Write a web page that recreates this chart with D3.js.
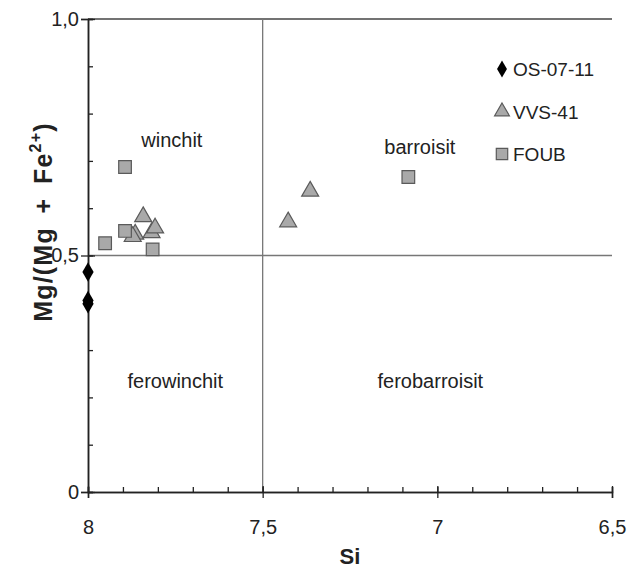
<!DOCTYPE html>
<html>
<head>
<meta charset="utf-8">
<script src="https://cdn.jsdelivr.net/npm/d3@7"></script>
<style>
  body { margin: 0; background: #fff; }
  svg { font-family: "Liberation Sans", Arial, sans-serif; }
</style>
</head>
<body>
<div id="okvir"></div>
<script>
// podatci ocitani sa slike
const osSi = [8.0, 8.0, 8.0];
const osMg = [0.465, 0.405, 0.398];

const vvsSi = [7.842, 7.865, 7.872, 7.818, 7.808, 7.427, 7.364];
const vvsMg = [0.582, 0.545, 0.540, 0.548, 0.558, 0.571, 0.636];

const foubSi = [7.894, 7.951, 7.894, 7.815, 7.083];
const foubMg = [0.687, 0.526, 0.552, 0.513, 0.666];

const xTicks = [8, 7.5, 7, 6.5];
const xTickLabels = ["8", "7,5", "7", "6,5"];
const yTicks = [0, 0.5, 1];
const yTickLabels = ["0", "0,5", "1,0"];

const serije = ["OS-07-11", "VVS-41", "FOUB"];
const polja = ["winchit", "barroisit", "ferowinchit", "ferobarroisit"];
const poljaSi = [7.76, 7.05, 7.75, 7.02];
const poljaMg = [0.73, 0.715, 0.22, 0.22];

const dimenzije = {
    sirina: 630,
    visina: 569,
    margine: { top: 19, right: 18, bottom: 77, left: 88 }
};
dimenzije.grSirina = dimenzije.sirina - dimenzije.margine.left - dimenzije.margine.right;
dimenzije.grVisina = dimenzije.visina - dimenzije.margine.top - dimenzije.margine.bottom;

const okvir = d3.select("#okvir")
    .append("svg")
        .attr("width", dimenzije.sirina)
        .attr("height", dimenzije.visina);

const granice = okvir.append("g")
    .attr("transform", `translate(${dimenzije.margine.left},${dimenzije.margine.top})`);

const xSkala = d3.scaleLinear()
    .domain([8, 6.5])
    .range([0, dimenzije.grSirina]);

const ySkala = d3.scaleLinear()
    .domain([0, 1])
    .range([dimenzije.grVisina, 0]);

const siva = "#777";

// gornja linija okvira
granice.append("line")
    .attr("x1", 0).attr("x2", dimenzije.grSirina)
    .attr("y1", 0).attr("y2", 0)
    .attr("stroke", "#444").attr("stroke-width", 1.5);

// granice polja
granice.append("line")
    .attr("x1", xSkala(7.5)).attr("x2", xSkala(7.5))
    .attr("y1", 0).attr("y2", dimenzije.grVisina)
    .attr("stroke", siva).attr("stroke-width", 1.3);
granice.append("line")
    .attr("x1", 0).attr("x2", dimenzije.grSirina)
    .attr("y1", ySkala(0.5)).attr("y2", ySkala(0.5))
    .attr("stroke", siva).attr("stroke-width", 1.3);

// x os - sitne crtice prema gore
const xOsMala = d3.axisTop(xSkala)
    .tickValues(d3.range(0, 16).map(i => 8 - i * 0.1))
    .tickSize(5)
    .tickFormat("");
const xOs1 = granice.append("g")
    .attr("transform", `translate(0,${dimenzije.grVisina})`)
    .call(xOsMala);

const xOsVelika = d3.axisBottom(xSkala)
    .tickValues(xTicks)
    .tickSize(6)
    .tickPadding(22)
    .tickFormat((d, i) => xTickLabels[i]);
const xOs2 = granice.append("g")
    .attr("transform", `translate(0,${dimenzije.grVisina})`)
    .call(xOsVelika);
xOs2.selectAll(".tick line").attr("y1", -6);

[xOs1, xOs2].forEach(os => {
    os.select(".domain").attr("stroke", "#222").attr("stroke-width", 1.5);
    os.selectAll(".tick line").attr("stroke", "#222").attr("stroke-width", 1.3);
});
xOs2.selectAll("text")
    .attr("fill", "#222")
    .style("font-size", "20px");

// y os
const yOsMala = d3.axisRight(ySkala)
    .tickValues(d3.range(0, 11).map(i => i * 0.1))
    .tickSize(5)
    .tickFormat("");
const yOs1 = granice.append("g").call(yOsMala);

const yOsVelika = d3.axisLeft(ySkala)
    .tickValues(yTicks)
    .tickSize(7)
    .tickPadding(2)
    .tickFormat((d, i) => yTickLabels[i]);
const yOs2 = granice.append("g").call(yOsVelika);
yOs2.selectAll(".tick line").attr("x2", -7).attr("x1", 7);

[yOs1, yOs2].forEach(os => {
    os.select(".domain").attr("stroke", "#222").attr("stroke-width", 1.5);
    os.selectAll(".tick line").attr("stroke", "#222").attr("stroke-width", 1.3);
});
yOs2.selectAll("text")
    .attr("fill", "#222")
    .style("font-size", "20px");

// naslovi osi
okvir.append("text")
    .attr("x", dimenzije.margine.left + xSkala(7.25))
    .attr("y", 564)
    .attr("text-anchor", "middle")
    .style("font-size", "22px")
    .style("font-weight", "bold")
    .attr("fill", "#222")
    .text("Si");

const yNaslov = okvir.append("text")
    .attr("transform", `translate(52,222) rotate(-90)`)
    .attr("text-anchor", "middle")
    .style("font-size", "25px")
    .style("font-weight", "bold")
    .style("letter-spacing", "1.2px")
    .attr("fill", "#222");
yNaslov.append("tspan").text("Mg/(Mg\u2002+\u2002Fe");
yNaslov.append("tspan").attr("dy", -11).style("font-size", "16px").text("2+");
yNaslov.append("tspan").attr("dy", 11).text(")");

// nazivi polja
granice.selectAll(".polje")
    .data(polja)
    .join("text")
        .attr("class", "polje")
        .attr("x", (d, i) => xSkala(poljaSi[i]))
        .attr("y", (d, i) => ySkala(poljaMg[i]))
        .attr("text-anchor", "middle")
        .style("font-size", "20px")
        .attr("fill", "#222")
        .text(d => d);

// tocke
const sivaIspuna = "#a9a9a9";
const sivaLinija = "#5a5a5a";

const trokut = d3.symbol().type(d3.symbolTriangle).size(125);
const kvadrat = d3.symbol().type(d3.symbolSquare).size(160);
const romb = d3.symbol().type(d3.symbolDiamond).size(110);

const trokutMali = d3.symbol().type(d3.symbolTriangle).size(95);
const rombMali = d3.symbol().type(d3.symbolDiamond).size(85);
const kvadratMali = d3.symbol().type(d3.symbolSquare).size(130);

granice.selectAll(".vvs")
    .data(vvsSi)
    .join("path")
        .attr("class", "vvs")
        .attr("d", trokut)
        .attr("transform", (d, i) => `translate(${xSkala(d)},${ySkala(vvsMg[i])})`)
        .attr("fill", sivaIspuna)
        .attr("stroke", sivaLinija)
        .attr("stroke-width", 1.2);

granice.selectAll(".foub")
    .data(foubSi)
    .join("path")
        .attr("class", "foub")
        .attr("d", kvadrat)
        .attr("transform", (d, i) => `translate(${xSkala(d)},${ySkala(foubMg[i])})`)
        .attr("fill", sivaIspuna)
        .attr("stroke", sivaLinija)
        .attr("stroke-width", 1.2);

granice.selectAll(".os")
    .data(osSi)
    .join("path")
        .attr("class", "os")
        .attr("d", romb)
        .attr("transform", (d, i) => `translate(${xSkala(d)},${ySkala(osMg[i])})`)
        .attr("fill", "#000");

// legenda
const legenda = okvir.append("g").attr("transform", "translate(502,69)");
const simboli = [rombMali, trokutMali, kvadratMali];
const ispune = ["#000", sivaIspuna, sivaIspuna];
serije.forEach((s, i) => {
    const red = legenda.append("g").attr("transform", `translate(0,${i * 42.5})`);
    red.append("path")
        .attr("d", simboli[i])
        .attr("fill", ispune[i])
        .attr("stroke", i === 0 ? "none" : sivaLinija)
        .attr("stroke-width", 1.2);
    red.append("text")
        .attr("x", 11)
        .attr("y", 7)
        .style("font-size", "19px")
        .attr("fill", "#222")
        .text(s);
});
</script>
</body>
</html>
